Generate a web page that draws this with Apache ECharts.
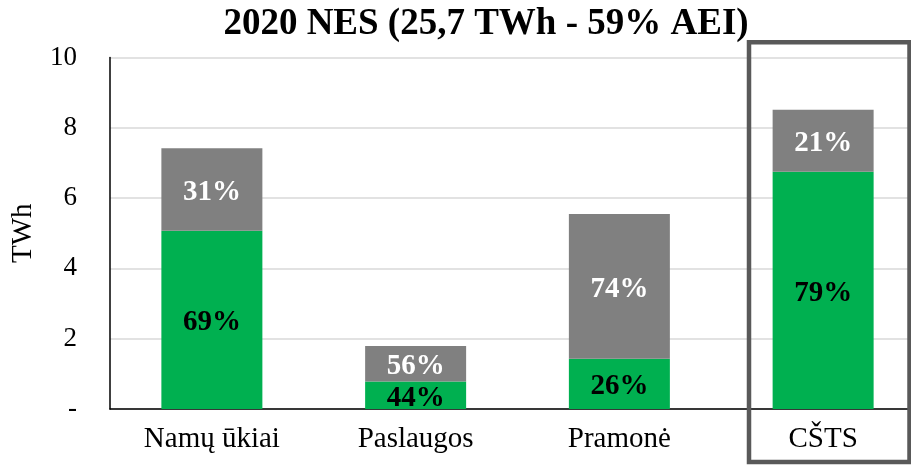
<!DOCTYPE html>
<html>
<head>
<meta charset="utf-8">
<script src="https://cdn.jsdelivr.net/npm/echarts@6/dist/echarts.min.js"></script>
<style>
  html, body { margin: 0; padding: 0; background: #fff; overflow: hidden; }
  /* plotas išeina už dešinio krašto, kaip originale */
  #main { width: 925px; height: 465px; }
</style>
</head>
<body>
<div id="main"></div>
<script>
// duomenys (TWh)
const categories = ["Namų ūkiai", "Paslaugos", "Pramonė", "CŠTS"];
const greenValues = [5.07, 0.78, 1.43, 6.75];
const greyValues = [2.35, 1.01, 4.12, 1.76];
const greenPct = [69, 44, 26, 79];
const greyPct = [31, 56, 74, 21];
const yTicks = [0, 2, 4, 6, 8, 10];

const serif = "'Liberation Serif', 'Times New Roman', serif";

const chart = echarts.init(document.getElementById("main"));
chart.setOption({
  animation: false,
  title: {
    text: "2020 NES (25,7 TWh - 59% AEI)",
    left: 481,
    top: 1,
    textAlign: "center",
    textStyle: { fontFamily: serif, fontWeight: "bold", fontSize: 37, color: "#000" },
  },
  grid: { left: 110, right: 0, top: 57.5, bottom: 56 },
  xAxis: {
    type: "category",
    data: categories,
    axisLine: { lineStyle: { color: "#000", width: 1.5 } },
    axisTick: { show: false },
    axisLabel: { fontFamily: serif, fontSize: 29, color: "#000", margin: 16 },
  },
  yAxis: {
    type: "value",
    min: yTicks[0],
    max: yTicks[yTicks.length - 1],
    interval: 2,
    name: "TWh",
    nameLocation: "middle",
    nameGap: 72,
    nameRotate: 90,
    nameTextStyle: { fontFamily: serif, fontSize: 29, color: "#000" },
    axisLine: { show: true, lineStyle: { color: "#000", width: 1.5 } },
    axisTick: { show: false },
    splitLine: { lineStyle: { color: "#d9d9d9", width: 1.5 } },
    axisLabel: {
      fontFamily: serif,
      fontSize: 27,
      color: "#000",
      margin: 33,
      formatter: (v) => (v === 0 ? "-" : v),
    },
  },
  series: [
    {
      name: "green",
      type: "bar",
      stack: "total",
      barWidth: 101,
      data: greenValues,
      itemStyle: { color: "#00b050" },
      label: {
        show: true,
        position: "inside",
        offset: [0, 3],
        fontFamily: serif,
        fontWeight: "bold",
        fontSize: 29,
        color: "#000",
        formatter: (p) => greenPct[p.dataIndex] + "%",
      },
    },
    {
      name: "grey",
      type: "bar",
      stack: "total",
      barWidth: 101,
      data: greyValues,
      itemStyle: { color: "#808080" },
      label: {
        show: true,
        position: "inside",
        offset: [0, 3],
        fontFamily: serif,
        fontWeight: "bold",
        fontSize: 29,
        color: "#fff",
        formatter: (p) => greyPct[p.dataIndex] + "%",
      },
    },
  ],
  graphic: [
    {
      type: "rect",
      shape: { x: 749, y: 42.3, width: 160.5, height: 419.7 },
      style: { fill: null, stroke: "#595959", lineWidth: 4.5 },
      z: 100,
    },
  ],
});
</script>
</body>
</html>
